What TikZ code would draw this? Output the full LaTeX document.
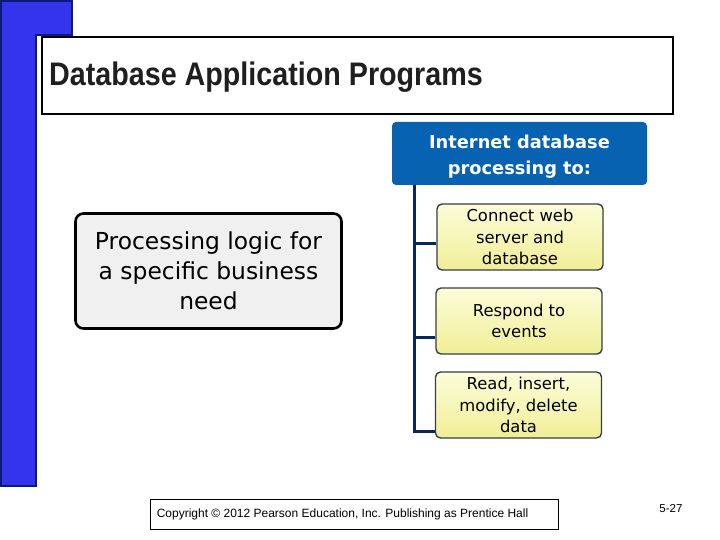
\documentclass[tikz,border=0pt]{standalone}
\usepackage{fontspec}
\setmainfont{Liberation Sans}
\newfontfamily\titlefont[FakeStretch=0.88]{Liberation Sans}
\newfontfamily\tah{DejaVu Sans}
\usetikzlibrary{calc}
\definecolor{barblue}{RGB}{52,52,236}
\definecolor{baredge}{RGB}{10,26,120}
\definecolor{hdrblue}{RGB}{8,98,178}
\definecolor{spine}{RGB}{12,36,96}
\definecolor{ytop}{RGB}{253,253,218}
\definecolor{ybot}{RGB}{240,238,150}
\definecolor{yedge}{RGB}{55,62,70}
\definecolor{gfill}{RGB}{240,240,240}
\tikzset{
  ybox/.style={draw=yedge, line width=1.4pt, rounded corners=5pt, top color=ytop, bottom color=ybot,
    minimum width=166pt, minimum height=66pt, inner sep=0pt, align=center,
    font=\tah\fontsize{16.4}{21.5}\selectfont},
  hdr/.style={fill=hdrblue, rounded corners=4pt, minimum width=255pt, minimum height=63pt, inner sep=0pt},
  hdrtext/.style={inner sep=0pt, align=center, text=white, font=\tah\bfseries\fontsize{17.8}{26}\selectfont},
  gbox/.style={draw=black, line width=2.6pt, fill=gfill, rounded corners=8pt, minimum width=266pt,
    minimum height=115pt, inner sep=0pt, align=center, font=\tah\fontsize{23.4}{30}\selectfont},
  conn/.style={draw=spine, line width=3pt},
}
\begin{document}
\begin{tikzpicture}[x=1pt,y=-1pt]
\useasboundingbox (0,0) rectangle (720,540);
\fill[white] (0,0) rectangle (720,540);
% left blue bar
\draw[fill=barblue, draw=baredge, line width=2pt] (1,1) -- (72,1) -- (72,35) -- (36,35) -- (36,486) -- (1,486) -- cycle;
% title box
\draw[fill=white, line width=1.1pt] (42,37) rectangle (673,114);
\node[anchor=base west, inner sep=0pt, font=\titlefont\bfseries\fontsize{32.6}{36}\selectfont, text=black!88] (title) at (49,86) {Database Application Programs};
% header
\node[hdr] (h) at (519.5,153.5) {};
\node[hdrtext] (ht) at ([yshift=-3pt]h.center) {Internet database\\processing to:};
% yellow boxes
\node[ybox] (b1) at (520,237) {Connect web\\server and\\database};
\node[ybox] (b2) at (519,321) {Respond to\\events};
\node[ybox] (b3) at (518.5,405) {Read, insert,\\modify, delete\\data};
% connectors
\coordinate (sp) at ([xshift=23pt]h.south west);
\draw[conn] (sp) |- ([yshift=-26pt]b3.west);
\draw[conn] ([yshift=-6pt]b1.west) -| (sp);
\draw[conn] ([yshift=-16pt]b2.west) -| (sp);
% left box
\node[gbox] (g) at (208.5,271) {Processing logic for\\a specific business\\need};
% footer
\node[draw=black, line width=0.9pt, minimum width=408pt, minimum height=30pt, inner sep=0pt] (cp) at (354,514) {};
\node[anchor=west, inner sep=0pt, font=\fontsize{12}{14}\selectfont] (cpt) at ([xshift=7pt]cp.west) {Copyright \textcopyright{} 2012 Pearson Education, Inc. Publishing as Prentice Hall};
\node[inner sep=0pt, font=\fontsize{11.5}{13}\selectfont] (pg) at (671,509) {5-27};
\end{tikzpicture}
\end{document}
